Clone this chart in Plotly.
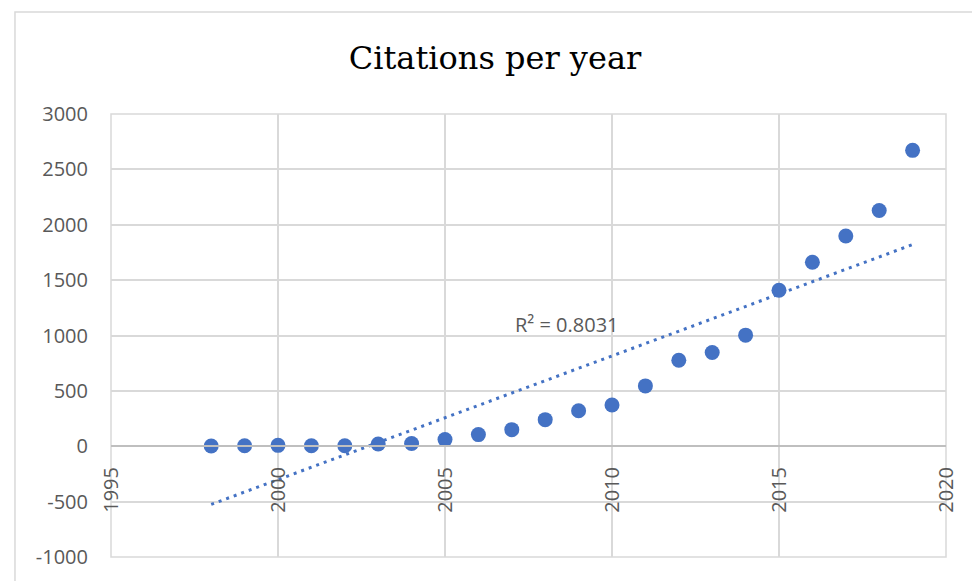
import numpy as np
import plotly.graph_objects as go

# Citations received each year
years = [1998, 1999, 2000, 2001, 2002, 2003, 2004, 2005, 2006, 2007, 2008,
         2009, 2010, 2011, 2012, 2013, 2014, 2015, 2016, 2017, 2018, 2019]
citations = [2, 5, 8, 5, 5, 20, 25, 60, 105, 150, 240,
             320, 373, 545, 777, 846, 1003, 1409, 1662, 1899, 2128, 2672]

x_ticks = [1995, 2000, 2005, 2010, 2015, 2020]
y_ticks = [-1000, -500, 0, 500, 1000, 1500, 2000, 2500, 3000]
y_tick_text = ["-1000", "-500", "0", "500", "1000", "1500", "2000", "2500", "3000"]
r2_label = "R² = 0.8031"

BLUE = "#4472C4"
GRID = "#d9d9d9"
TEXT = "#595959"
FONT = "Open Sans"

# Linear trendline (least squares)
slope, intercept = np.polyfit(years, citations, 1)
trend_x = [years[0], years[-1]]
trend_y = [slope * x + intercept for x in trend_x]

fig = go.Figure()
fig.add_trace(go.Scatter(
    x=trend_x, y=trend_y, mode="lines",
    line=dict(color=BLUE, width=3, dash="3px,5px"),
    hoverinfo="skip", showlegend=False,
))
fig.add_trace(go.Scatter(
    x=years, y=citations, mode="markers",
    marker=dict(color=BLUE, size=15),
    showlegend=False,
))

fig.add_annotation(
    x=2008.65, y=1096, text=r2_label, showarrow=False,
    font=dict(family=FONT, size=20, color=TEXT),
)

# Outer chart frame
fig.add_shape(type="rect", xref="paper", yref="paper",
              x0=-0.115, x1=1.2, y0=-0.2, y1=1.2305,
              line=dict(color=GRID, width=1.5), layer="below")
# Plot area border (outermost gridlines)
fig.add_shape(type="rect", xref="paper", yref="paper",
              x0=0, x1=1, y0=0, y1=1,
              line=dict(color=GRID, width=1.5), layer="below")

fig.update_layout(
    width=972, height=581,
    margin=dict(l=111, r=26, t=114, b=24),
    paper_bgcolor="white", plot_bgcolor="white",
    title=dict(
        text="Citations per year",
        font=dict(family="DejaVu Serif", size=32, color="black"),
        x=495 / 972, xanchor="center", xref="container",
        y=1 - 58 / 581, yanchor="middle", yref="container",
    ),
    xaxis=dict(
        range=[1995, 2020], tickvals=x_ticks,
        tickangle=-90, tickfont=dict(family=FONT, size=20, color=TEXT),
        showgrid=True, gridcolor=GRID, gridwidth=1.5,
        zeroline=False, showline=True, linecolor="#bfbfbf", linewidth=1.5,
        anchor="free", position=0.25, ticklabelstandoff=12,
    ),
    yaxis=dict(
        range=[-1000, 3000], tickvals=y_ticks, ticktext=y_tick_text,
        tickfont=dict(family=FONT, size=20, color=TEXT),
        showgrid=True, gridcolor=GRID, gridwidth=1.5,
        zeroline=True, zerolinecolor="#bfbfbf", zerolinewidth=1.5,
        showline=False, ticklabelstandoff=22,
    ),
)

fig.write_html("out.html")
